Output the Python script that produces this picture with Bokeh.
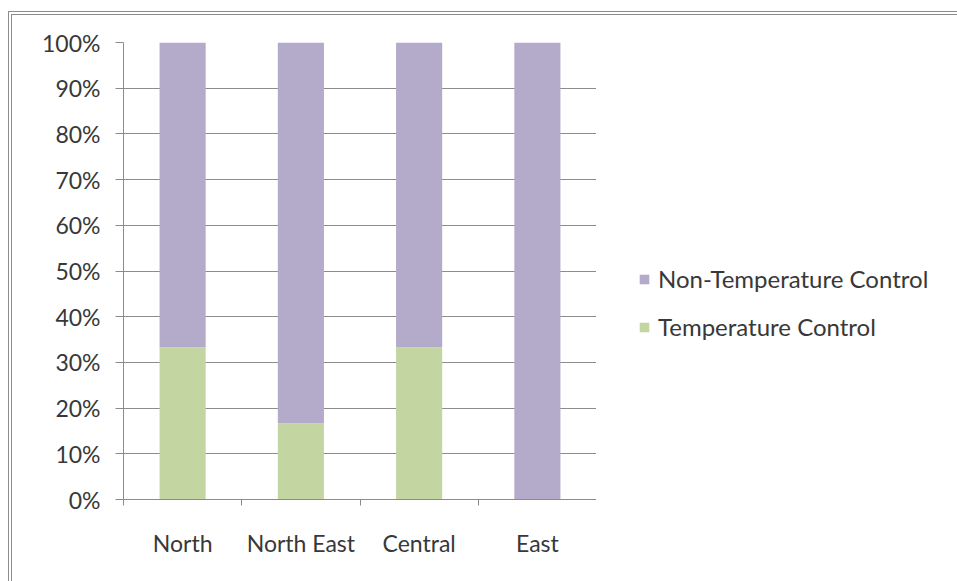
from bokeh.plotting import figure
from bokeh.layouts import row
from bokeh.models import (ColumnDataSource, FixedTicker, NumeralTickFormatter,
                          Legend, LegendItem, Range1d)
from bokeh.embed import file_html
from bokeh.resources import INLINE

# Share of sites by region (fractions of 100%)
regions = ["North", "North East", "Central", "East"]
temperature_control = [0.333, 0.167, 0.333, 0.0]
non_temperature_control = [0.667, 0.833, 0.667, 1.0]
y_ticks = [0.0, 0.1, 0.2, 0.3, 0.4, 0.5, 0.6, 0.7, 0.8, 0.9, 1.0]

series = ["temperature_control", "non_temperature_control"]
series_labels = ["Temperature Control", "Non-Temperature Control"]
colors = ["#C3D6A2", "#B4AAC9"]

FONT = "Lato"
FONT_SIZE = "23px"
TEXT = "#383838"
GRID = "#8c8c8c"

centers = [i + 0.5 for i in range(len(regions))]
source = ColumnDataSource(dict(
    x=centers,
    region=regions,
    temperature_control=temperature_control,
    non_temperature_control=non_temperature_control,
))

p = figure(width=584, height=566, output_backend="svg", toolbar_location=None,
           x_range=Range1d(0, len(regions)), y_range=Range1d(0, 1),
           min_border_left=111, min_border_right=0,
           min_border_top=27, min_border_bottom=82)
p.outline_line_color = None
p.background_fill_color = "white"
p.border_fill_color = "white"

p.vbar_stack(series, x="x", width=0.39, source=source,
             color=colors, line_color=None)

# y axis: percent ticks, gridlines and outward tick marks
p.yaxis.ticker = FixedTicker(ticks=y_ticks)
p.yaxis.formatter = NumeralTickFormatter(format="0%")
p.yaxis.axis_line_color = GRID
p.yaxis.major_tick_line_color = GRID
p.yaxis.major_tick_out = 8
p.yaxis.major_tick_in = 0
p.yaxis.minor_tick_line_color = None
p.yaxis.major_label_standoff = 15
p.yaxis.major_label_text_font = FONT
p.yaxis.major_label_text_font_size = FONT_SIZE
p.yaxis.major_label_text_color = TEXT

p.ygrid.ticker = FixedTicker(ticks=y_ticks)
p.ygrid.grid_line_color = GRID
p.ygrid.grid_line_width = 1
p.xgrid.grid_line_color = None

# x axis: labels at category centres, tick marks at category boundaries
p.xaxis.ticker = FixedTicker(ticks=centers,
                             minor_ticks=list(range(len(regions) + 1)))
p.xaxis.major_label_overrides = {c: r for c, r in zip(centers, regions)}
p.xaxis.axis_line_color = GRID
p.xaxis.major_tick_line_color = None
p.xaxis.major_tick_out = 0
p.xaxis.major_tick_in = 0
p.xaxis.minor_tick_line_color = GRID
p.xaxis.minor_tick_out = 6
p.xaxis.minor_tick_in = 0
p.xaxis.major_label_standoff = 23
p.xaxis.major_label_text_font = FONT
p.xaxis.major_label_text_font_size = FONT_SIZE
p.xaxis.major_label_text_color = TEXT

# legend panel to the right of the chart; its swatch renderers sit outside
# the panel's visible range so only the legend entries show
lg = figure(width=361, height=566, output_backend="svg", toolbar_location=None,
            x_range=Range1d(0, 1), y_range=Range1d(0, 1),
            min_border=0)
lg.axis.visible = False
lg.grid.visible = False
lg.outline_line_color = None
lg.border_fill_color = "white"
swatch_src = ColumnDataSource(dict(x=[-5.0], top=[-5.0]))
swatches = [lg.vbar(x="x", top="top", width=0.1, source=swatch_src,
                    fill_color=c, line_color=None) for c in colors]

legend = Legend(items=[
    LegendItem(label=series_labels[1], renderers=[swatches[1]]),
    LegendItem(label=series_labels[0], renderers=[swatches[0]]),
], location=(42, 158))
legend.border_line_color = None
legend.background_fill_alpha = 0
legend.glyph_width = 12
legend.glyph_height = 12
legend.label_standoff = 8
legend.spacing = 19
legend.padding = 0
legend.margin = 0
legend.label_text_font = FONT
legend.label_text_font_size = "24px"
legend.label_text_color = TEXT
lg.add_layout(legend, "center")

page = row(p, lg, styles={
    "border-left": "4px double #8c8c8c",
    "border-top": "4px double #8c8c8c",
    "margin-left": "8px",
    "margin-top": "11px",
})

open("out.html", "w").write(file_html(page, INLINE))
